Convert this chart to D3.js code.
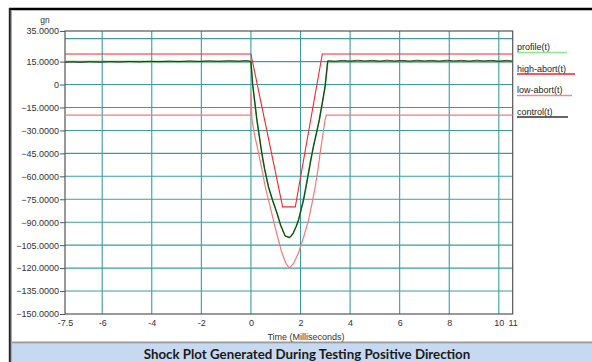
<!DOCTYPE html>
<html>
<head>
<meta charset="utf-8">
<script src="https://cdn.jsdelivr.net/npm/d3@7"></script>
<style>
  body { margin: 0; background: #fff; }
  svg { display: block; }
</style>
</head>
<body>
<div id="chart"></div>
<script>
// tick labels and grid positions
const xTickValues = [-7.5, -6, -4, -2, 0, 2, 4, 6, 8, 10, 10.56];
const xTickLabels = ["-7.5", "-6", "-4", "-2", "0", "2", "4", "6", "8", "10", "11"];
const xGridValues = [-6, -4, -2, 0, 2, 4, 6, 8, 10];
const yTickValues = [35, 15, 0, -15, -30, -45, -60, -75, -90, -105, -120, -135, -150];
const yGridValues = [30, 15, 0, -15, -30, -45, -60, -75, -90, -105, -120, -135];

// series, [time ms, gn]
const highAbort = [[-7.5, 20], [0, 20], [1.28, -80], [1.79, -80], [2.88, 20], [10.56, 20]];

const lowAbort = [[-7.5, -20], [0, -20], [0, -5], [0.04, -23], [0.15, -33], [0.31, -45], [0.45, -56],
  [0.58, -67], [0.75, -78], [0.91, -89], [1.08, -100], [1.25, -110], [1.4, -116.5], [1.55, -120],
  [1.72, -117], [1.92, -110], [2.12, -100], [2.32, -89], [2.46, -78], [2.59, -67], [2.7, -56],
  [2.79, -45], [2.9, -33], [2.99, -23], [3.04, -20], [10.56, -20]];

const profile = [[-7.5, 15], [0, 15], [0.07, 0], [0.24, -23], [0.44, -45], [0.55, -55], [0.71, -67],
  [0.88, -76], [1.05, -84], [1.2, -92], [1.38, -99], [1.55, -100], [1.63, -99], [1.71, -97],
  [1.82, -93], [1.92, -88.6], [2.02, -82], [2.12, -75.5], [2.22, -67], [2.32, -58], [2.42, -49],
  [2.52, -40.6], [2.64, -32], [2.76, -23], [2.88, -12], [2.99, -1.6], [3.1, 15], [10.56, 15]];

const control = [[-7.5, 14.5], [-7.2, 14.8], [-6.9, 14.4], [-6.5, 14.9], [-6.1, 14.6], [-5.7, 15.0],
  [-5.3, 14.7], [-4.9, 15.1], [-4.5, 14.8], [-4.1, 15.2], [-3.7, 14.9], [-3.3, 15.3], [-2.9, 15.0],
  [-2.5, 15.4], [-2.1, 15.1], [-1.7, 15.5], [-1.3, 15.2], [-0.9, 15.6], [-0.5, 15.3], [-0.2, 15.7],
  [0, 15.2], [0.07, 0], [0.24, -23], [0.44, -45], [0.55, -55], [0.71, -67], [0.88, -76], [1.05, -84],
  [1.2, -92], [1.38, -99], [1.55, -100], [1.63, -99], [1.71, -97], [1.82, -93], [1.92, -88.6],
  [2.02, -82], [2.12, -75.5], [2.22, -67], [2.32, -58], [2.42, -49], [2.52, -40.6], [2.64, -32],
  [2.76, -23], [2.88, -12], [2.99, -1.6],
  [3.1, 15.6], [3.4, 15.2], [3.7, 15.8], [4.0, 15.3], [4.3, 15.9], [4.6, 15.4], [4.9, 15.8], [5.2, 15.3],
  [5.5, 15.9], [5.8, 15.4], [6.1, 15.8], [6.4, 15.3], [6.7, 15.9], [7.0, 15.4], [7.3, 15.8], [7.6, 15.3],
  [7.9, 15.9], [8.2, 15.4], [8.5, 15.8], [8.8, 15.3], [9.1, 15.9], [9.4, 15.4], [9.7, 15.8], [10.0, 15.3],
  [10.3, 15.8], [10.56, 15.4]];

const legendItems = [
  {name: "profile(t)", color: "#8ee88e", len: 50},
  {name: "high-abort(t)", color: "#e8282a", len: 58},
  {name: "low-abort(t)", color: "#f28a8a", len: 55},
  {name: "control(t)", color: "#333333", len: 51}
];

const W = 592, H = 362;
const plot = {left: 65, top: 31, right: 512.7, bottom: 314};

const svg = d3.select("#chart").append("svg")
  .attr("width", W)
  .attr("height", H);

// outer frame and bottom banner
svg.append("line").attr("x1", 9).attr("x2", W).attr("y1", 9).attr("y2", 9)
  .attr("stroke", "#000").attr("stroke-width", 2.6);
svg.append("line").attr("x1", 9.8).attr("x2", 9.8).attr("y1", 8).attr("y2", H)
  .attr("stroke", "#222").attr("stroke-width", 2);
svg.append("line").attr("x1", 11.5).attr("x2", 11.5).attr("y1", 10).attr("y2", H)
  .attr("stroke", "#aaa").attr("stroke-width", 1);
svg.append("rect").attr("x", 12).attr("y", 343.5).attr("width", W - 12).attr("height", H - 343.5)
  .attr("fill", "#c6d9f1");
svg.append("line").attr("x1", 12).attr("x2", W).attr("y1", 342.5).attr("y2", 342.5)
  .attr("stroke", "#9a9a9a").attr("stroke-width", 2);
svg.append("text")
  .attr("x", 307).attr("y", 358.5)
  .attr("text-anchor", "middle")
  .style("font-family", "Lato, 'Open Sans', sans-serif")
  .style("font-weight", "bold")
  .style("font-size", "13.3px")
  .attr("fill", "#1a1a1a")
  .text("Shock Plot Generated During Testing Positive Direction");

const x = d3.scaleLinear().domain([-7.5, 10.56]).range([plot.left, plot.right]);
const y = d3.scaleLinear().domain([-150, 35]).range([plot.bottom, plot.top]);

const g = svg.append("g");

// grid
g.selectAll(".hgrid").data(yGridValues).enter().append("line")
  .attr("x1", plot.left).attr("x2", plot.right)
  .attr("y1", d => y(d)).attr("y2", d => y(d))
  .attr("stroke", "#3a9e9e").attr("stroke-width", 1.1);
g.selectAll(".vgrid").data(xGridValues).enter().append("line")
  .attr("x1", d => x(d)).attr("x2", d => x(d))
  .attr("y1", plot.top).attr("y2", plot.bottom)
  .attr("stroke", "#3a9e9e").attr("stroke-width", 1.1);

// axes
const font = "'Liberation Sans', Arial, sans-serif";
const yAxis = d3.axisLeft(y).tickValues(yTickValues).tickSize(5).tickPadding(1)
  .tickFormat(d => d === 0 ? "0" : d3.format(".4f")(d));
const yg = svg.append("g").attr("transform", `translate(${plot.left},0)`).call(yAxis);
yg.select(".domain").remove();
yg.selectAll("line").attr("stroke", "#555");
yg.selectAll("text").style("font-family", font).style("font-size", "9px").attr("fill", "#333");

const xAxis = d3.axisBottom(x).tickValues(xTickValues).tickSize(0).tickPadding(6)
  .tickFormat((d, i) => xTickLabels[i]);
const xg = svg.append("g").attr("transform", `translate(0,${plot.bottom})`).call(xAxis);
xg.select(".domain").remove();
xg.selectAll("text").style("font-family", font).style("font-size", "9px").attr("fill", "#333");

// plot frame
svg.append("rect")
  .attr("x", plot.left).attr("y", plot.top)
  .attr("width", plot.right - plot.left).attr("height", plot.bottom - plot.top)
  .attr("fill", "none").attr("stroke", "#555").attr("stroke-width", 1.2);

svg.append("text").attr("x", 45).attr("y", 23).attr("text-anchor", "middle")
  .style("font-family", font).style("font-size", "8.5px").attr("fill", "#333").text("gn");
svg.append("text").attr("x", 306).attr("y", 340).attr("text-anchor", "middle")
  .style("font-family", font).style("font-size", "9px").attr("fill", "#333").text("Time (Milliseconds)");

// series
const line = d3.line().x(d => x(d[0])).y(d => y(d[1]));
const clip = svg.append("clipPath").attr("id", "clip").append("rect")
  .attr("x", plot.left).attr("y", plot.top)
  .attr("width", plot.right - plot.left).attr("height", plot.bottom - plot.top);
const series = svg.append("g").attr("clip-path", "url(#clip)").attr("fill", "none");
series.append("path").datum(lowAbort).attr("d", line).attr("stroke", "#f47a7a").attr("stroke-width", 1.2);
series.append("path").datum(highAbort).attr("d", line).attr("stroke", "#ee2a2a").attr("stroke-width", 1.1);
series.append("path").datum(profile).attr("d", line).attr("stroke", "#34a834").attr("stroke-width", 1.6);
series.append("path").datum(control).attr("d", line).attr("stroke", "#1a1a1a").attr("stroke-width", 0.8);

// legend
const lg = svg.append("g").selectAll("g").data(legendItems).enter().append("g")
  .attr("transform", (d, i) => `translate(517,${50 + i * 21.5})`);
lg.append("text").attr("x", 0).attr("y", 0)
  .style("font-family", font).style("font-size", "9px").attr("fill", "#222").text(d => d.name);
lg.append("line").attr("x1", 0).attr("x2", d => d.len).attr("y1", 2.5).attr("y2", 2.5)
  .attr("stroke", d => d.color).attr("stroke-width", 1.4);
</script>
</body>
</html>
